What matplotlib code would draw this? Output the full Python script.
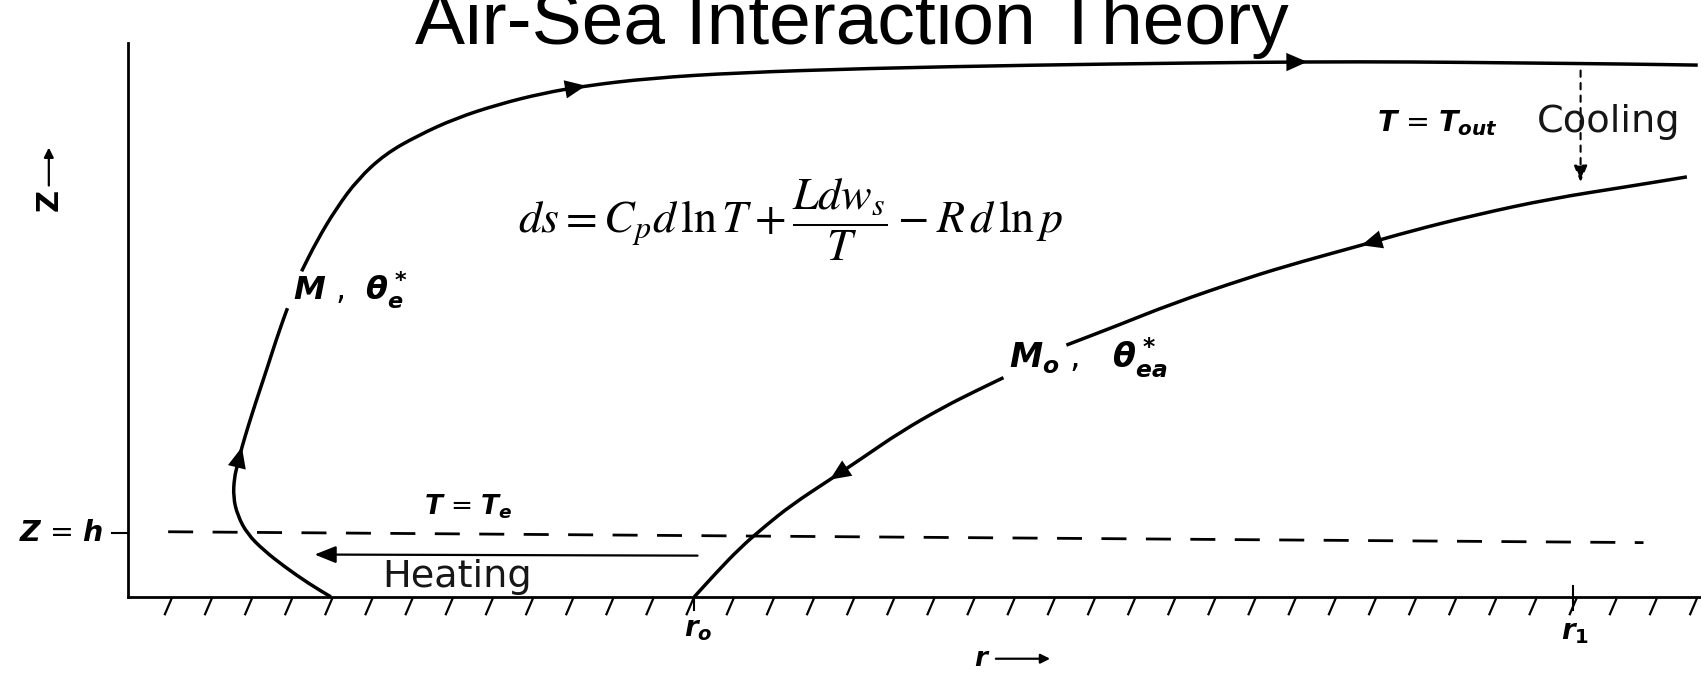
"""Emanuel's Carnot-cycle sketch of a tropical cyclone (air-sea interaction)."""
import numpy as np
import matplotlib
matplotlib.use("Agg")
import matplotlib.pyplot as plt
from matplotlib import font_manager
from matplotlib.path import Path
from matplotlib.patches import PathPatch

# Diagram coordinates: x = radius, y = height (image-like units, y grows downward)
GROUND_Y = 550
AXIS_X = 118
AXIS_TOP = 40

# inflow leg, rising eyewall (below the "M, theta_e*" label)
eyewall_low_r = [305, 285, 262, 243, 228, 219, 215, 216, 219, 223, 229, 236, 246, 254, 262, 265]
eyewall_low_z = [550, 538, 522, 507, 492, 475, 458, 440, 428, 412, 392, 370, 340, 315, 292, 284]
# eyewall above the label, turning into the outflow
outflow_r = [278, 292, 310, 330, 355, 385, 420, 460, 500, 540, 600, 680, 800, 950,
             1100, 1205, 1300, 1400, 1500, 1565]
outflow_z = [250, 222, 192, 165, 142, 125, 109, 96, 86, 79, 72, 67, 63, 60,
             58, 57, 57, 58, 59, 60]
# descending leg at large radius (above and below the "M0, theta_ea*" label)
descent_up_r = [983, 1030, 1080, 1150, 1200, 1255, 1300, 1360, 1430, 1500, 1555]
descent_up_z = [318, 300, 280, 256, 241, 226, 213, 198, 183, 172, 163]
descent_low_r = [640, 660, 682, 705, 730, 765, 795, 830, 870, 900, 925]
descent_low_z = [550, 528, 505, 485, 465, 442, 422, 398, 375, 360, 348]

# boundary layer top z = h
bl_top_r = [155, 1515]
bl_top_z = [490, 500]

# reference radii on the ground
r0_pos, r1_pos = 640, 1450


def narrow_family():
    names = {f.name for f in font_manager.fontManager.ttflist}
    if "Liberation Sans Narrow" in names:
        return "Liberation Sans Narrow", 61
    return "Liberation Sans", 54


def smooth_line(ax, r, z, lw):
    # quadratic Bezier through the midpoints, the listed points act as controls
    pts = np.column_stack([r, z]).astype(float)
    mids = (pts[:-1] + pts[1:]) / 2
    verts = [pts[0], mids[0]]
    codes = [Path.MOVETO, Path.LINETO]
    for i in range(1, len(pts) - 1):
        verts += [pts[i], mids[i]]
        codes += [Path.CURVE3, Path.CURVE3]
    verts.append(pts[-1])
    codes.append(Path.LINETO)
    ax.add_patch(PathPatch(Path(verts, codes), fill=False, edgecolor="k", lw=lw,
                           capstyle="butt", joinstyle="round"))


def arrowhead(ax, r, z, i, size=30, color="k"):
    # arrowhead on a curve, pointing from point i to point i+1
    ax.annotate("", xy=(r[i + 1], z[i + 1]), xytext=(r[i], z[i]),
                arrowprops=dict(arrowstyle="-|>,head_length=0.5,head_width=0.22",
                                color=color, lw=0, mutation_scale=size,
                                shrinkA=0, shrinkB=0))


def main() -> None:
    plt.rcParams["mathtext.fontset"] = "custom"
    plt.rcParams["mathtext.it"] = "DejaVu Sans:italic:bold"
    plt.rcParams["mathtext.rm"] = "DejaVu Sans:bold"

    fig = plt.figure(figsize=(17.01, 6.75), dpi=100)
    ax = fig.add_axes([0, 0, 1, 1])
    ax.set_xlim(0, 1568)
    ax.set_ylim(622, 0)
    ax.axis("off")

    lw_axis = 2.0
    lw_curve = 2.5

    # axes of the sketch
    ax.plot([AXIS_X, AXIS_X], [AXIS_TOP, GROUND_Y], color="k", lw=lw_axis)
    ax.plot([AXIS_X, 1568], [GROUND_Y, GROUND_Y], color="k", lw=lw_axis)
    hatch_x = np.arange(158, 1568, 37)
    for hx in hatch_x:
        ax.plot([hx, hx - 6], [552, 566], color="k", lw=1.6)
    ax.plot([r0_pos, r0_pos], [GROUND_Y, 562], color="k", lw=1.5)
    ax.plot([r1_pos, r1_pos], [GROUND_Y - 10, 562], color="k", lw=1.5)

    # z = h
    ax.plot(bl_top_r, bl_top_z, color="k", lw=2.0, dashes=(9, 7))
    ax.plot([103, AXIS_X], [491, 491], color="k", lw=1.5)

    # streamlines
    for r, z in [(eyewall_low_r, eyewall_low_z), (outflow_r, outflow_z),
                 (descent_up_r, descent_up_z), (descent_low_r, descent_low_z)]:
        smooth_line(ax, r, z, lw_curve)
    arrowhead(ax, eyewall_low_r, eyewall_low_z, 8)
    arrowhead(ax, outflow_r, outflow_z, 8)
    arrowhead(ax, outflow_r, outflow_z, 14)
    arrowhead(ax, descent_up_r[::-1], descent_up_z[::-1], 4)
    arrowhead(ax, descent_low_r[::-1], descent_low_z[::-1], 4)

    # heating and cooling arrows
    ax.annotate("", xy=(290, 511), xytext=(643, 512),
                arrowprops=dict(arrowstyle="-|>,head_length=0.5,head_width=0.2",
                                color="k", lw=1.6, mutation_scale=26,
                                shrinkA=0, shrinkB=0))
    ax.annotate("", xy=(1457, 168), xytext=(1457, 65),
                arrowprops=dict(arrowstyle="-|>,head_length=0.5,head_width=0.2",
                                color="k", lw=1.5, ls=(0, (3, 3)),
                                mutation_scale=20, shrinkA=0, shrinkB=0))

    # labels
    ax.text(421, 532, "Heating", fontsize=27.5, ha="center", va="center", color="#161616")
    ax.text(1483, 112, "Cooling", fontsize=27.5, ha="center", va="center", color="#161616")
    ax.text(432, 467, r"$T$ = $T_e$", fontsize=19, ha="center", va="center",
            math_fontfamily="custom")
    ax.text(1325, 113, r"$T$ = $T_{out}$", fontsize=20.5, ha="center", va="center",
            math_fontfamily="custom")
    ax.text(270, 267, r"$M$ ,  $\theta^*_e$", fontsize=23, ha="left", va="center",
            math_fontfamily="custom")
    ax.text(930, 330, r"$M_o$ ,   $\theta^*_{ea}$", fontsize=24, ha="left", va="center",
            math_fontfamily="custom")
    ax.text(56, 491, r"$Z$ = $h$", fontsize=20.5, ha="center", va="center",
            math_fontfamily="custom")
    ax.text(r0_pos + 4, 580, r"$r_o$", fontsize=20, ha="center", va="center",
            math_fontfamily="custom")
    ax.text(r1_pos + 2, 582, r"$r_1$", fontsize=20, ha="center", va="center",
            math_fontfamily="custom")
    ax.text(905, 607, r"$r$", fontsize=19, ha="center", va="center",
            math_fontfamily="custom")
    ax.annotate("", xy=(968, 607), xytext=(918, 607),
                arrowprops=dict(arrowstyle="-|>", color="k", lw=1.6,
                                mutation_scale=14, shrinkA=0, shrinkB=0))
    ax.text(45, 184, "Z", fontsize=22, fontweight="bold", rotation=90,
            ha="center", va="center")
    ax.annotate("", xy=(45, 136), xytext=(45, 171),
                arrowprops=dict(arrowstyle="-|>", color="k", lw=1.6,
                                mutation_scale=14, shrinkA=0, shrinkB=0))

    # entropy equation
    ax.text(729, 203, r"$ds = C_p d\,\ln T + \dfrac{Ldw_s}{T} - R\,d\,\ln p$",
            fontsize=33, ha="center", va="center", math_fontfamily="stix")

    # title, clipped at the top edge like the slide
    family, size = narrow_family()
    ax.text(785, 41, "Air-Sea Interaction Theory", family=family, fontsize=size,
            ha="center", va="baseline")

    fig.savefig("out.png", dpi=100)
    plt.close(fig)


if __name__ == "__main__":
    main()
